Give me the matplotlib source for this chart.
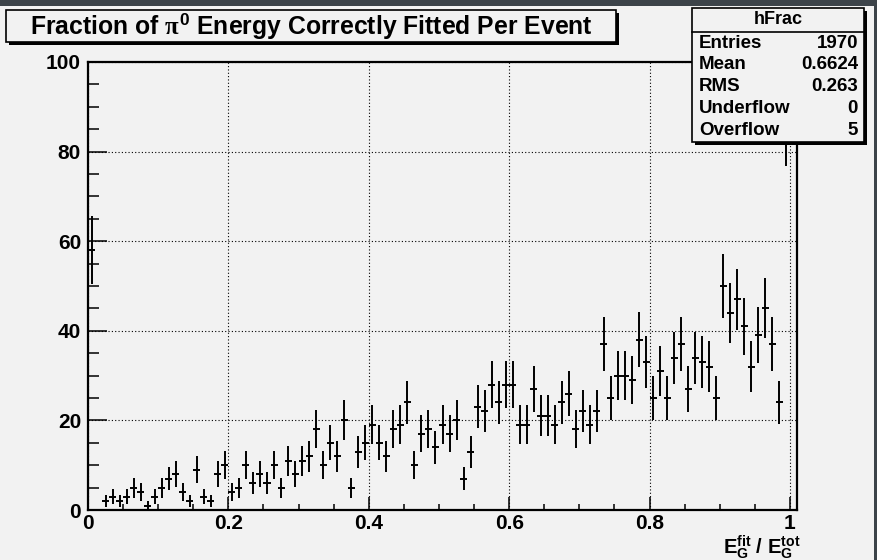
import matplotlib

matplotlib.use("Agg")
import matplotlib.pyplot as plt
import numpy as np
from matplotlib.patches import Rectangle

plt.rcParams.update(
    {
        "font.family": "Liberation Sans",
        "font.weight": "bold",
        "mathtext.fontset": "custom",
        "mathtext.rm": "Liberation Sans:bold",
        "mathtext.bf": "Liberation Sans:bold",
        "mathtext.it": "Liberation Serif",
    }
)

# hFrac: 101 bins of width 0.01 on [0, 1.01]
bin_edges_lo = 0.0
bin_width = 0.01
counts = [
    58, 0, 2, 3, 2, 3, 5, 4, 1, 3, 5, 7, 8, 4, 2, 9, 3, 2, 8, 10,
    4, 5, 10, 6, 8, 6, 10, 5, 11, 8, 11, 12, 18, 10, 15, 12, 20, 5, 13, 15,
    19, 15, 12, 18, 19, 24, 10, 17, 18, 14, 19, 17, 20, 7, 13, 23, 22, 28, 24, 28,
    28, 19, 19, 27, 21, 21, 19, 24, 26, 18, 22, 19, 22, 37, 25, 30, 30, 29, 38, 33,
    25, 31, 25, 34, 37, 27, 34, 33, 32, 25, 50, 44, 47, 41, 32, 39, 45, 37, 24, 86,
    0,
]
stats_labels = ["Entries", "Mean", "RMS", "Underflow", "Overflow"]
stats_values = ["1970", "0.6624", "0.263", "0", "5"]
x_ticks = [0.0, 0.2, 0.4, 0.6, 0.8, 1.0]
x_ticklabels = ["0", "0.2", "0.4", "0.6", "0.8", "1"]
y_ticks = [0, 20, 40, 60, 80, 100]

BG = "#f2f2f2"
W, H = 877, 560

fig = plt.figure(figsize=(W / 100, H / 100), dpi=100, facecolor=BG)
ax = fig.add_axes([88 / W, 1 - 510 / H, (797 - 88) / W, (510 - 62) / H], facecolor=BG)

counts = np.array(counts, dtype=float)
centers = bin_edges_lo + bin_width * (np.arange(len(counts)) + 0.5)
filled = counts > 0
ax.errorbar(
    centers[filled],
    counts[filled],
    xerr=bin_width / 2,
    yerr=np.sqrt(counts[filled]),
    fmt="none",
    ecolor="black",
    elinewidth=1.4,
    capsize=0,
    zorder=3,
)

ax.set_xlim(0, 1.01)
ax.set_ylim(0, 100)
ax.set_xticks(x_ticks)
ax.set_xticklabels(x_ticklabels)
ax.set_xticks(np.arange(0, 1.01, 0.05), minor=True)
ax.set_yticks(y_ticks)
ax.set_yticks(np.arange(0, 101, 5), minor=True)
ax.grid(True, which="major", color="black", ls=(0, (1, 2)), lw=0.8)
ax.tick_params(axis="x", which="major", direction="in", length=9.5, width=1.1, labelsize=15, pad=3)
ax.tick_params(axis="x", which="minor", direction="in", length=4.5, width=1.1)
ax.tick_params(axis="y", which="major", direction="in", length=14, width=1.1, labelsize=15, pad=5)
ax.tick_params(axis="y", which="minor", direction="in", length=8, width=1.1)
ax.tick_params(top=False, right=False)
for sp in ax.spines.values():
    sp.set_linewidth(1.6)

fig.text(
    801 / W, 1 - 547 / H,
    r"$\mathbf{E}_{\mathbf{G}}^{\mathbf{fit}}$ / $\mathbf{E}_{\mathbf{G}}^{\mathbf{tot}}$",
    ha="right", va="center", fontsize=14.5,
)

# dark window strip along the top and right edges
fig.patches.append(Rectangle((0, 1 - 6 / H), 1, 6 / H, transform=fig.transFigure,
                             facecolor="#3c4349", edgecolor="none", zorder=1))
fig.patches.append(Rectangle((1 - 3 / W, 0), 3 / W, 1, transform=fig.transFigure,
                             facecolor="#3c4349", edgecolor="none", zorder=1))


def shadow_box(x0, y0, x1, y1, off=3):
    # black drop shadow then the box itself, pixel coordinates measured from the top
    fig.patches.append(
        Rectangle(((x0 + off) / W, 1 - (y1 + off) / H), (x1 - x0) / W, (y1 - y0) / H,
                  transform=fig.transFigure, facecolor="black", edgecolor="none", zorder=5)
    )
    fig.patches.append(
        Rectangle((x0 / W, 1 - y1 / H), (x1 - x0) / W, (y1 - y0) / H, transform=fig.transFigure,
                  facecolor=BG, edgecolor="black", lw=1.2, zorder=6)
    )


# title pave
shadow_box(6, 10, 616, 42)
fig.text(30 / W, 1 - 26 / H, r"Fraction of $\pi^{0}$ Energy Correctly Fitted Per Event",
         ha="left", va="center", fontsize=17.8, zorder=7)

# statistics pave
shadow_box(692, 8, 864, 142)
fig.text(778 / W, 1 - 20 / H, "hFrac", ha="center", va="center", fontsize=13, zorder=7)
fig.add_artist(plt.Line2D([692 / W, 864 / W], [1 - 32 / H, 1 - 32 / H], color="black", lw=1.2, zorder=7))
for k, (lab, val) in enumerate(zip(stats_labels, stats_values)):
    yy = 1 - (43 + 21.8 * k) / H
    fig.text(699 / W, yy, lab, ha="left", va="center", fontsize=13.5, zorder=7)
    fig.text(858 / W, yy, val, ha="right", va="center", fontsize=13.5, zorder=7)

fig.savefig("out.png", dpi=100, facecolor=BG)
